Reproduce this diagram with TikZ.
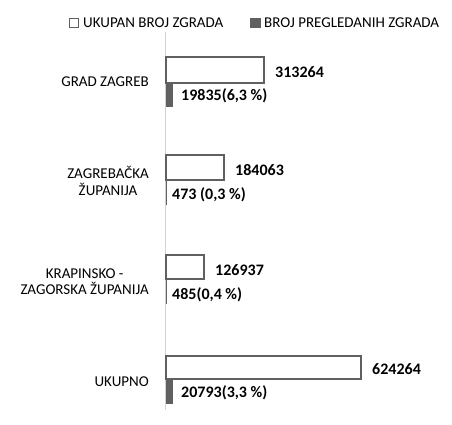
\documentclass[tikz,border=0pt]{standalone}
\usepackage{fontspec}
\setmainfont{Carlito}
\tikzset{
  totalbar/.style={draw=gray!75!black, line width=1.8pt, fill=white},
  seenbar/.style={fill=gray!75!black, draw=none},
  catlabel/.style={anchor=east, align=center, inner sep=0pt, font=\fontsize{15}{16.5}\selectfont},
  leglabel/.style={anchor=west, inner sep=0pt, font=\fontsize{15}{16}\selectfont},
  numlabel/.style={anchor=west, font=\bfseries\fontsize{16}{17}\selectfont, inner sep=0pt}
}
\begin{document}
\begin{tikzpicture}[x=1pt, y=1pt]
        \useasboundingbox (0,0) rectangle (452,-425);
        % legend
        \draw[totalbar, line width=1.5pt] (69.5,-18.5) rectangle (78.5,-27.5);
        \node[leglabel] (legtotal) at (83,-23) {UKUPAN BROJ ZGRADA};
        \fill[gray!75!black] (250,-18) rectangle (261,-28.5);
        \node[leglabel] (legseen) at (264,-23) {BROJ PREGLEDANIH ZGRADA};
        % axis
        \draw[gray!35, line width=0.8pt] (165,-32) -- (165,-410);
        % grad zagreb
        \draw[totalbar] (166,-57) rectangle (264,-83);
        \fill[seenbar] (165.5,-83) rectangle (172.5,-107);
        \node[numlabel] (gztotal) at (275,-72) {313264};
        \node[numlabel] (gzseen) at (181,-96) {19835(6,3 \%)};
        \node[catlabel] (gz) at (149,-82) {GRAD ZAGREB};
        % zagrebacka zupanija
        \draw[totalbar] (166,-155) rectangle (224,-180);
        \fill[seenbar] (165.5,-180) rectangle (166.8,-205);
        \node[numlabel] (zgtotal) at (235,-170) {184063};
        \node[numlabel] (zgseen) at (172,-195) {473 (0,3 \%)};
        \node[catlabel] (zg) at (149,-181) {ZAGREBAČKA\\ŽUPANIJA};
        % krapinsko-zagorska zupanija
        \draw[totalbar] (166,-255) rectangle (204,-279);
        \fill[seenbar] (165.5,-279) rectangle (166.8,-304);
        \node[numlabel] (kztotal) at (215,-270) {126937};
        \node[numlabel] (kzseen) at (172,-295) {485(0,4 \%)};
        \node[catlabel] (kz) at (149,-281.5) {KRAPINSKO -\\ZAGORSKA ŽUPANIJA};
        % ukupno
        \draw[totalbar] (166,-356) rectangle (361,-379);
        \fill[seenbar] (165.5,-379) rectangle (172.5,-404);
        \node[numlabel] (uktotal) at (372,-369) {624264};
        \node[numlabel] (ukseen) at (181,-393) {20793(3,3 \%)};
        \node[catlabel] (uk) at (149,-382) {UKUPNO};
\end{tikzpicture}
\end{document}
